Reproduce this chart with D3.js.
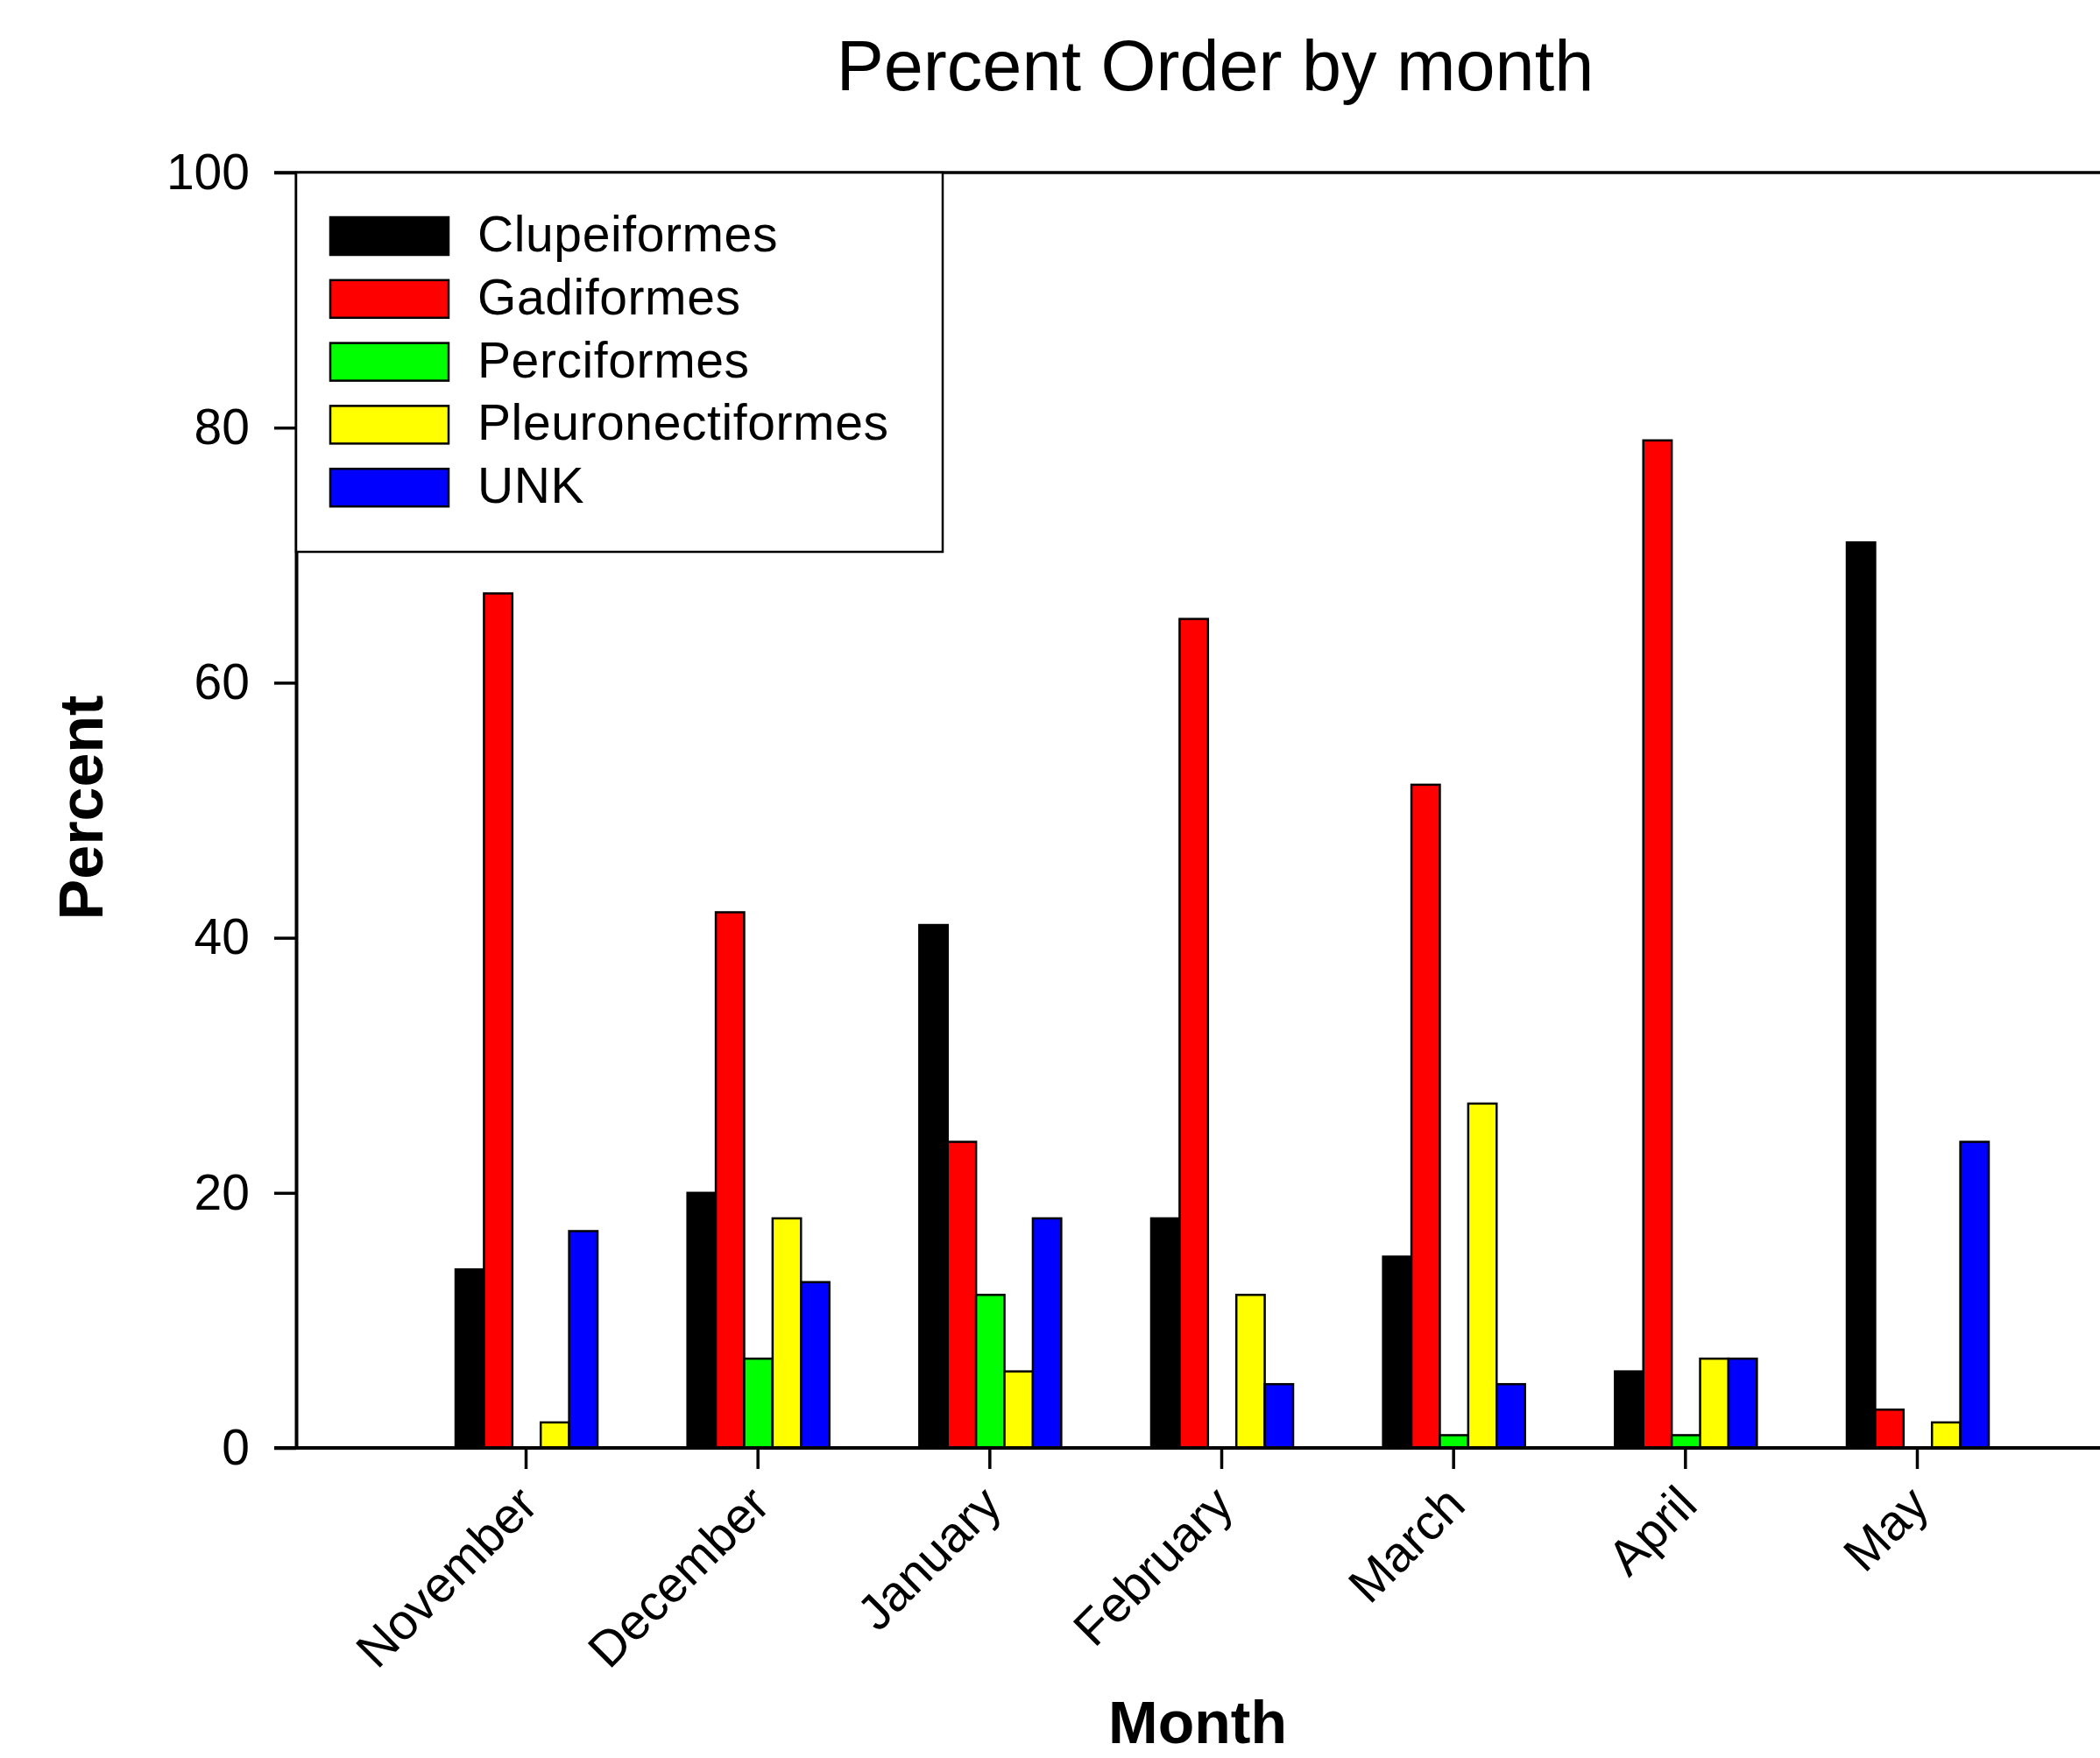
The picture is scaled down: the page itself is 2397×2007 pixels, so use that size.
<!DOCTYPE html>
<html>
<head>
<meta charset="utf-8">
<script src="https://cdn.jsdelivr.net/npm/d3@7"></script>
<style>
  html, body { margin: 0; padding: 0; background: #fff; }
  svg { display: block; }
  text { font-family: "Liberation Sans", Arial, sans-serif; fill: #000; }
</style>
</head>
<body>
<script>
// ---- data ----
const months = ["November", "December", "January", "February", "March", "April", "May"];
const series = ["Clupeiformes", "Gadiformes", "Perciformes", "Pleuronectiformes", "UNK"];
const colors = ["#000000", "#ff0000", "#00ff00", "#ffff00", "#0000ff"];
const clupeiformes      = [14, 20, 41, 18, 15,  6, 71];
const gadiformes        = [67, 42, 24, 65, 52, 79,  3];
const perciformes       = [ 0,  7, 12,  0,  1,  1,  0];
const pleuronectiformes = [ 2, 18,  6, 12, 27,  7,  2];
const unk               = [17, 13, 18,  5,  5,  7, 24];
const yTicks = [0, 20, 40, 60, 80, 100];
const title = "Percent Order by month";
const xTitle = "Month";
const yTitle = "Percent";

const values = [clupeiformes, gadiformes, perciformes, pleuronectiformes, unk];

// ---- layout ----
const W = 2397, H = 2007;
const pLeft = 338, pTop = 197, pBottom = 1653, pRight = W;

const svg = d3.select("body").append("svg").attr("width", W).attr("height", H);

const y = d3.scaleLinear().domain([0, 100]).range([pBottom, pTop]);
const x = d3.scalePoint().domain(months).range([600, 2188]);
const xs = d3.scaleBand().domain(series).range([-80, 82]);

// top frame line
svg.append("line")
  .attr("x1", 313).attr("x2", pRight).attr("y1", pTop).attr("y2", pTop)
  .attr("stroke", "#000").attr("stroke-width", 3.5);

// bars
const rows = [];
months.forEach((m, i) => series.forEach((s, j) => rows.push({ m, s, j, v: values[j][i] })));
svg.append("g").selectAll("rect").data(rows.filter(d => d.v > 0)).join("rect")
  .attr("x", d => x(d.m) + xs(d.s))
  .attr("width", xs.bandwidth())
  .attr("y", d => y(d.v))
  .attr("height", d => y(0) - y(d.v))
  .attr("fill", d => colors[d.j])
  .attr("stroke", "#000").attr("stroke-width", 2.5);

// y axis
const yAxis = svg.append("g").attr("transform", `translate(${pLeft},0)`)
  .call(d3.axisLeft(y).tickValues(yTicks).tickSize(25).tickPadding(28).tickSizeOuter(0));
yAxis.select(".domain").attr("stroke-width", 4);
yAxis.selectAll(".tick line").attr("stroke-width", 3.5);
yAxis.selectAll(".tick text").style("font-size", "57px").attr("font-family", "Liberation Sans, Arial, sans-serif");

// x axis
const xAxis = svg.append("g").attr("transform", `translate(0,${pBottom})`)
  .call(d3.axisBottom(x).tickSize(24).tickSizeOuter(0).tickFormat(d => d));
xAxis.select(".domain").attr("d", `M313,0H${pRight}`).attr("stroke-width", 4);
xAxis.selectAll(".tick line").attr("stroke-width", 3.5);
xAxis.selectAll(".tick text")
  .style("font-size", "57px").attr("font-family", "Liberation Sans, Arial, sans-serif")
  .attr("text-anchor", "end")
  .attr("y", 0).attr("dy", 0)
  .attr("transform", "translate(16,68) rotate(-45)");

// legend
const lg = svg.append("g");
lg.append("rect").attr("x", pLeft).attr("y", pTop).attr("width", 1076 - pLeft).attr("height", 630 - pTop)
  .attr("fill", "#fff").attr("stroke", "#000").attr("stroke-width", 2.5);
const li = lg.selectAll("g.item").data(series).join("g").attr("class", "item")
  .attr("transform", (d, i) => `translate(377,${248 + i * 71.8})`);
li.append("rect").attr("width", 135).attr("height", 43)
  .attr("fill", (d, i) => colors[i]).attr("stroke", "#000").attr("stroke-width", 2.5);
li.append("text").attr("x", 168).attr("y", 39).style("font-size", "57px")
  .style("letter-spacing", "0.6px").text(d => d);

// titles
svg.append("text").attr("x", 1387).attr("y", 103).attr("text-anchor", "middle")
  .style("font-size", "81px").text(title);
svg.append("text").attr("x", 1367).attr("y", 1990).attr("text-anchor", "middle")
  .style("font-size", "68px").style("font-weight", "bold").text(xTitle);
svg.append("text").attr("transform", "translate(117,922) rotate(-90)").attr("text-anchor", "middle")
  .style("font-size", "70px").style("font-weight", "bold").text(yTitle);
</script>
</body>
</html>
